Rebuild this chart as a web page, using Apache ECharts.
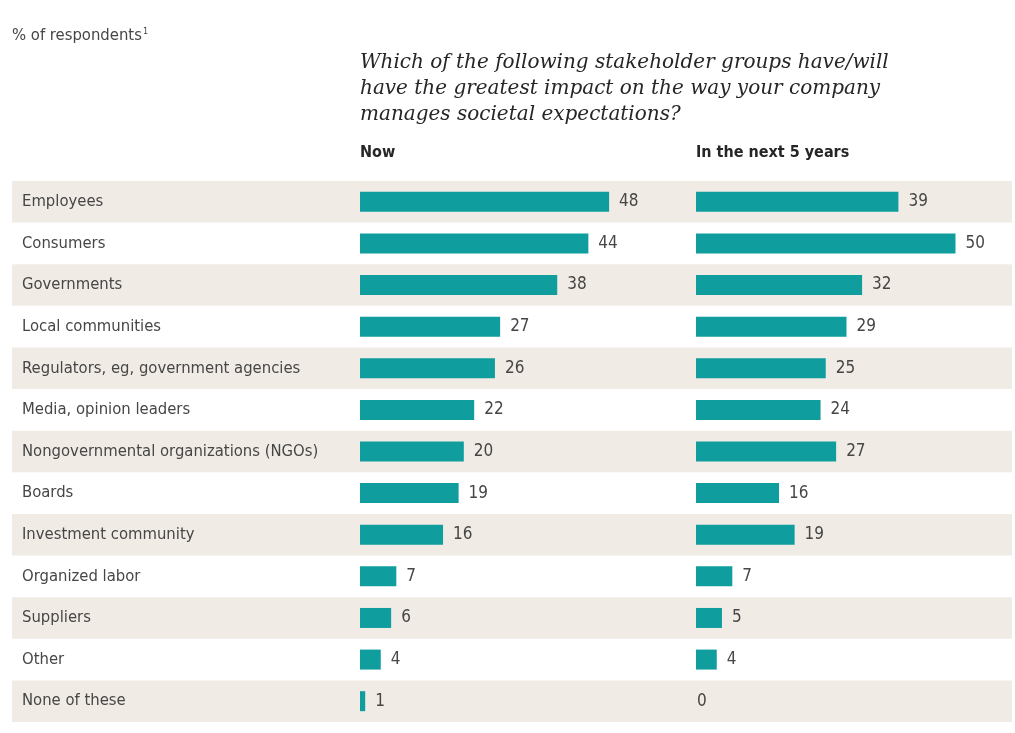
<!DOCTYPE html>
<html>
<head>
<meta charset="utf-8">
<script src="https://cdn.jsdelivr.net/npm/echarts@6/dist/echarts.min.js"></script>
<style>
  html, body { margin: 0; padding: 0; background: #ffffff; }
  #chart { width: 1015px; height: 733px; }
</style>
</head>
<body>
<div id="chart"></div>
<script>
// Stakeholder groups, top to bottom
const categories = [
  'Employees',
  'Consumers',
  'Governments',
  'Local communities',
  'Regulators, eg, government agencies',
  'Media, opinion leaders',
  'Nongovernmental organizations (NGOs)',
  'Boards',
  'Investment community',
  'Organized labor',
  'Suppliers',
  'Other',
  'None of these'
];
// % of respondents
const nowValues = [48, 44, 38, 27, 26, 22, 20, 19, 16, 7, 6, 4, 1];
const next5Values = [39, 50, 32, 29, 25, 24, 27, 16, 19, 7, 5, 4, 0];

const panelTitles = ['Now', 'In the next 5 years'];
const question = [
  'Which of the following stakeholder groups have/will',
  'have the greatest impact on the way your company',
  'manages societal expectations?'
];

const condensed = '"Liberation Sans Narrow", "DejaVu Sans Condensed", "Roboto Condensed", "Liberation Sans", sans-serif';
const serif = '"DejaVu Serif", "Liberation Serif", serif';
const TEAL = '#109d9d';
const BAND = '#f0ebe5';
const TEXT = '#464646';

const AXIS_MAX = 60;
const PX_PER_UNIT = 5.19;
const plotTop = 181;
const plotHeight = 541;

function barData(values) {
  return values.map(v => ({
    value: v,
    label: { distance: v === 0 ? 1 : 10 }
  }));
}

const chart = echarts.init(document.getElementById('chart'), null, { renderer: 'canvas' });

const hiddenValueAxis = (gridIndex) => ({
  type: 'value', gridIndex, min: 0, max: AXIS_MAX,
  show: false
});
const hiddenCatAxis = (gridIndex) => ({
  type: 'category', gridIndex, data: categories, inverse: true,
  show: false
});

chart.setOption({
  backgroundColor: '#ffffff',
  animation: false,
  title: [
    {
      text: '% of respondents{sup|1}',
      left: 12, top: 27, padding: 0,
      textStyle: {
        fontFamily: condensed, fontSize: 16.5, fontWeight: 'normal', color: TEXT,
        rich: { sup: { fontFamily: condensed, fontSize: 9, color: TEXT, verticalAlign: 'top', padding: [0, 0, 7, 1] } }
      }
    },
    {
      text: question.join('\n'),
      left: 360, top: 50, padding: 0,
      textStyle: {
        fontFamily: serif, fontStyle: 'italic', fontWeight: 'normal',
        fontSize: 20, lineHeight: 26, color: '#262626'
      }
    },
    {
      text: panelTitles[0],
      left: 360, top: 145, padding: 0,
      textStyle: { fontFamily: condensed, fontSize: 16, fontWeight: 'bold', color: '#262626' }
    },
    {
      text: panelTitles[1],
      left: 696, top: 145, padding: 0,
      textStyle: { fontFamily: condensed, fontSize: 16, fontWeight: 'bold', color: '#262626' }
    }
  ],
  grid: [
    // background bands + category labels
    { left: 12, top: plotTop, width: 1000, height: plotHeight },
    // Now
    { left: 360, top: plotTop, width: AXIS_MAX * PX_PER_UNIT, height: plotHeight },
    // In the next 5 years
    { left: 696, top: plotTop, width: AXIS_MAX * PX_PER_UNIT, height: plotHeight }
  ],
  xAxis: [hiddenValueAxis(0), hiddenValueAxis(1), hiddenValueAxis(2)],
  yAxis: [
    {
      type: 'category', gridIndex: 0, data: categories, inverse: true,
      axisLine: { show: false }, axisTick: { show: false },
      splitLine: { show: false },
      splitArea: { show: true, areaStyle: { color: [BAND, 'rgba(255,255,255,0)'] } },
      axisLabel: {
        inside: true, margin: 10, align: 'left',
        fontFamily: condensed, fontSize: 16.5, color: TEXT
      }
    },
    hiddenCatAxis(1),
    hiddenCatAxis(2)
  ],
  series: [
    {
      type: 'scatter', xAxisIndex: 0, yAxisIndex: 0, data: [], silent: true
    },
    {
      name: panelTitles[0], type: 'bar', xAxisIndex: 1, yAxisIndex: 1,
      data: barData(nowValues), barWidth: 20,
      itemStyle: { color: TEAL },
      label: { show: true, position: 'right', fontFamily: condensed, fontSize: 17, color: TEXT },
      silent: true
    },
    {
      name: panelTitles[1], type: 'bar', xAxisIndex: 2, yAxisIndex: 2,
      data: barData(next5Values), barWidth: 20,
      itemStyle: { color: TEAL },
      label: { show: true, position: 'right', fontFamily: condensed, fontSize: 17, color: TEXT },
      silent: true
    }
  ]
});
</script>
</body>
</html>
